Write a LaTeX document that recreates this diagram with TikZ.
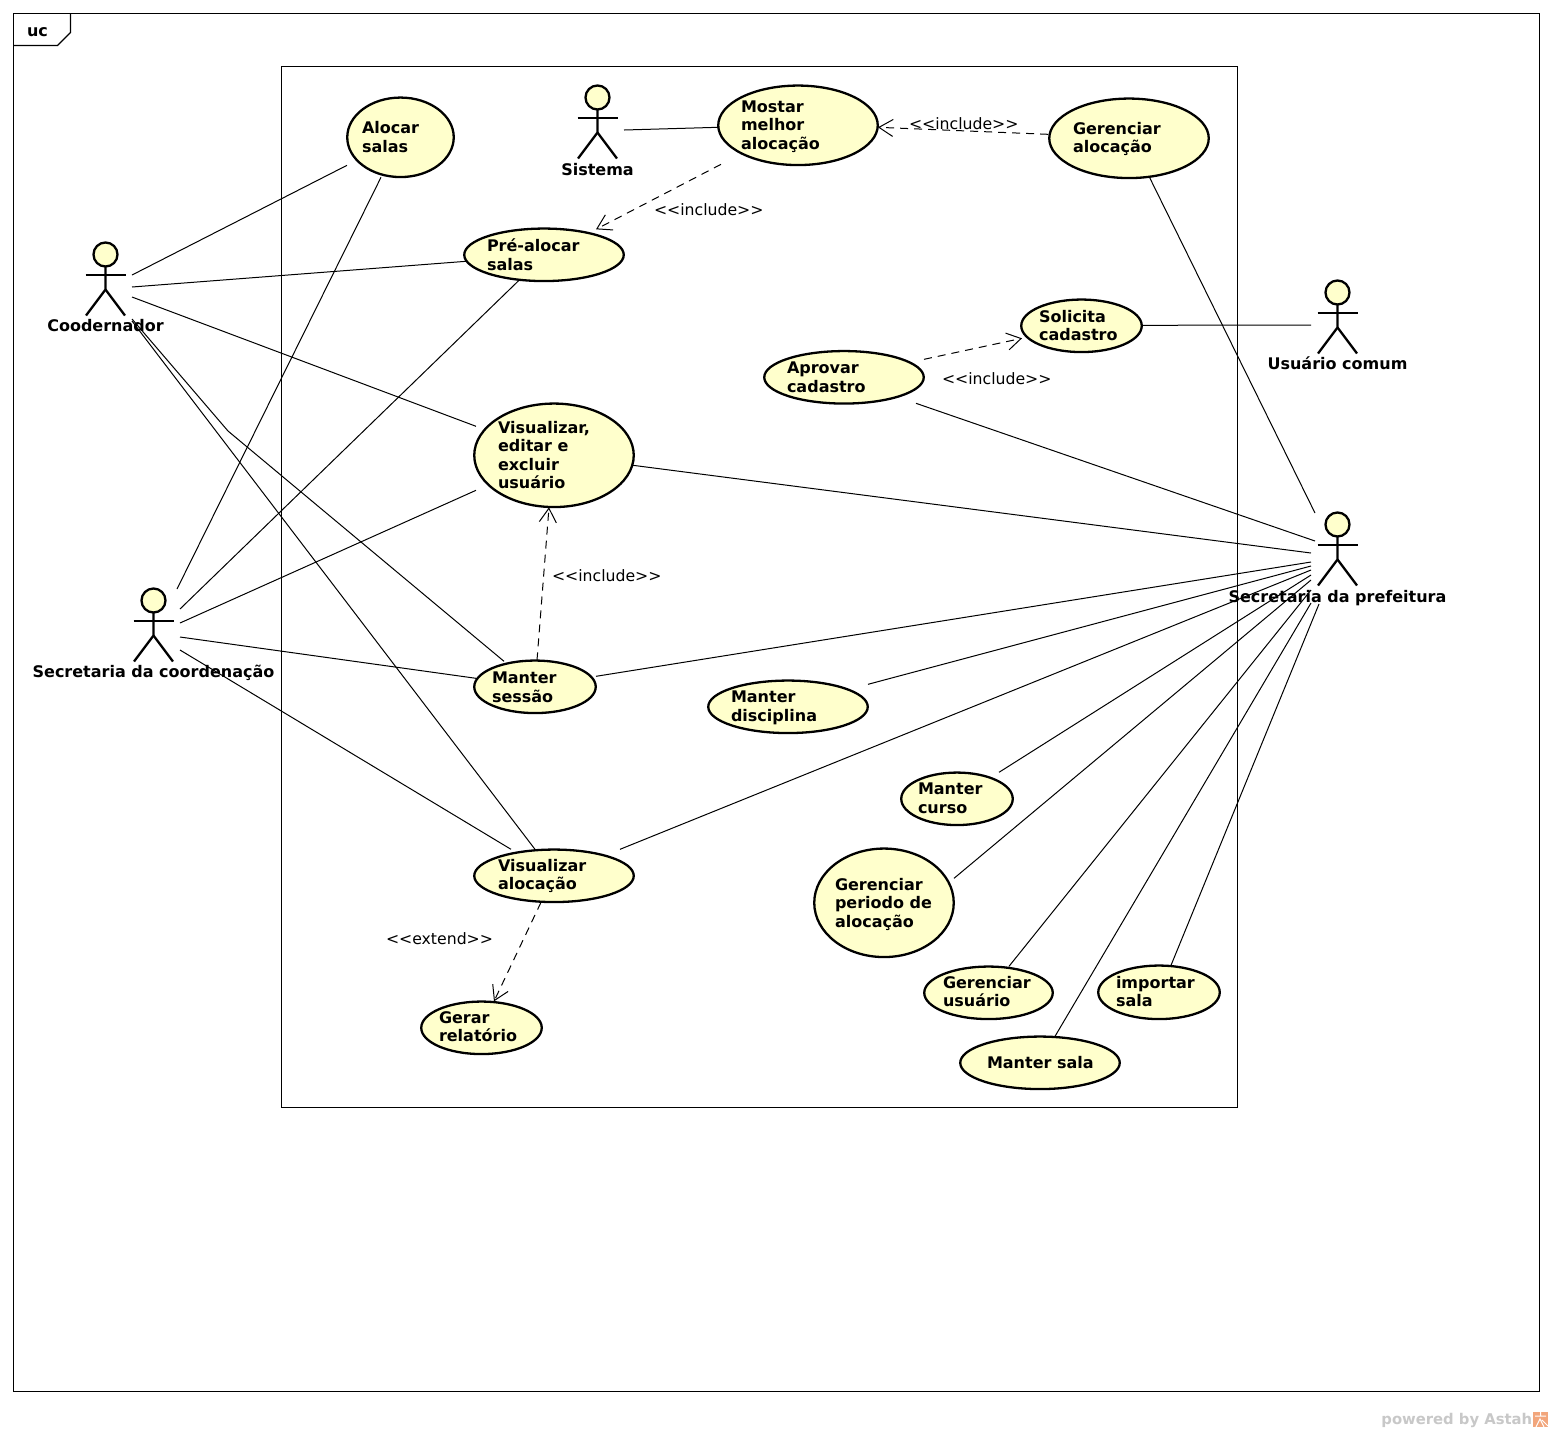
\documentclass[tikz,border=0pt]{standalone}
\usepackage{fontspec}
\setmainfont{DejaVu Sans}
\usetikzlibrary{arrows.meta,shapes.geometric}
\definecolor{ucfill}{HTML}{FFFFCC}
\definecolor{wmgrey}{HTML}{C8C8C8}
\definecolor{wmorange}{HTML}{F2A67C}
\tikzset{
  x=0.5pt,y=-0.5pt,
  frameline/.style={draw=black,line width=0.6pt},
  sysbox/.style={draw=black,line width=0.45pt},
  ucshape/.style={ellipse,draw=black,fill=ucfill,line width=1.15pt,inner sep=0pt,outer sep=0pt},
  uctext/.style={anchor=base west,inner sep=0pt,outer sep=0pt,font=\fontsize{8.0}{9.3}\selectfont\bfseries},
  actortext/.style={anchor=base,inner sep=0pt,outer sep=0pt,font=\fontsize{8.0}{9.3}\selectfont\bfseries},
  stereo/.style={anchor=base west,inner sep=0pt,outer sep=0pt,font=\fontsize{7.85}{9.3}\selectfont},
  assoc/.style={draw=black,line width=0.5pt},
  dep/.style={draw=black,line width=0.5pt,dash pattern=on 4pt off 3pt,-{Straight Barb[length=7pt,width=8.5pt,line width=0.5pt]}},
  actorline/.style={draw=black,line width=1.15pt},
  actorhead/.style={circle,draw=black,fill=ucfill,line width=1.15pt,minimum size=12pt,inner sep=0pt,outer sep=0pt},
}
\newcommand{\lines}[1]{\begin{tabular}[t]{@{}l@{}}#1\end{tabular}}
\newcommand{\regc}[3]{%
  \pgfmathsetmacro\tmpcx{#2}\pgfmathsetmacro\tmpcy{#3}%
  \global\expandafter\let\csname cx#1\endcsname\tmpcx
  \global\expandafter\let\csname cy#1\endcsname\tmpcy}
% name, x1, x2, y1, y2, text x, baseline y, text
\newcommand{\usecase}[8]{%
  \regc{#1}{(#2+#3)/2}{(#4+#5)/2}%
  \node[ucshape,minimum width={(#3-#2-0.5)*0.5pt},minimum height={(#5-#4-0.5)*0.5pt}] (#1) at ({(#2+#3)/2},{(#4+#5)/2+0.3}) {};
  \node[uctext] (#1T) at (#6,#7) {\lines{#8}};}
% name, head x, head y, label baseline, label
\newcommand{\actor}[5]{%
  \regc{#1}{#2}{#3}%
  \node[actorhead] (#1) at (#2,#3) {};
  \draw[actorline] (#1.south) -- ++(0,23) coordinate (#1C) -- ++(-19.5,26);
  \draw[actorline] (#1C) -- ++(19.5,26);
  \draw[actorline] ([shift={(-20,20.5)}]#1.center) -- ++(40.5,0);
  \node[actortext] (#1T) at (#2,#4) {#5};}
% style, a, x1, y1, b, x2, y2
\newcommand{\link}[7]{%
  \draw[#1] ([shift={(#3-\csname cx#2\endcsname,#4-\csname cy#2\endcsname)}]#2.center) --
            ([shift={(#6-\csname cx#5\endcsname,#7-\csname cy#5\endcsname)}]#5.center);}
\begin{document}
\begin{tikzpicture}
\useasboundingbox (0,0) rectangle (1553,1432);
\fill[white] (0,0) rectangle (1553,1432);
% frame
\draw[frameline] (13.5,13.5) rectangle (1539.5,1391.5);
\draw[frameline] (13.5,45.5) -- (57.5,45.5) -- (70.5,32.5) -- (70.5,13.5);
\node[uctext] (frameT) at (27,36) {uc};
% system boundary
\draw[sysbox] (281.5,66.5) rectangle (1237.5,1107.5);
% use cases
\usecase{alocar}{347}{454}{97}{177}{362}{133.4}{Alocar\\salas}
\usecase{mostrar}{718}{878}{85}{165}{741}{112}{Mostar\\melhor\\alocação}
\usecase{geral}{1049}{1209}{98}{178}{1073}{134}{Gerenciar\\alocação}
\usecase{pre}{464}{624}{228}{281}{487}{251.4}{Pré-alocar\\salas}
\usecase{solicita}{1021}{1142}{299}{352}{1039}{322}{Solicita\\cadastro}
\usecase{aprovar}{764}{924}{350.5}{403.5}{787}{373.4}{Aprovar\\cadastro}
\usecase{vis}{474}{634}{403}{507}{498}{433}{Visualizar,\\editar e\\excluir\\usuário}
\usecase{sessao}{474}{596}{660}{713}{492}{683.6}{Manter\\sessão}
\usecase{disc}{708}{868}{680}{733}{731}{702.6}{Manter\\disciplina}
\usecase{curso}{901}{1013}{772}{825}{918}{794.6}{Manter\\curso}
\usecase{periodo}{814}{954}{848}{957}{835}{890}{Gerenciar\\periodo de\\alocação}
\usecase{visal}{474}{634}{849}{902}{498}{871}{Visualizar\\alocação}
\usecase{rel}{421}{542}{1001}{1054}{439}{1023}{Gerar\\relatório}
\usecase{gusu}{924}{1053}{966}{1019}{943}{988}{Gerenciar\\usuário}
\usecase{imp}{1098}{1220}{965}{1019}{1116}{988}{importar\\sala}
\usecase{sala}{960}{1120}{1036}{1089}{987}{1068}{Manter sala}
% actors
\actor{coo}{105.5}{254.5}{331}{Coodernador}
\actor{sis}{597.5}{97.5}{175}{Sistema}
\actor{sec}{153.5}{600.5}{677}{Secretaria da coordenação}
\actor{usu}{1337.5}{292.5}{369}{Usuário comum}
\actor{pref}{1337.5}{524.5}{602}{Secretaria da prefeitura}
% Coodernador
\link{assoc}{coo}{132}{275}{alocar}{347}{165}
\link{assoc}{coo}{132}{287}{pre}{466}{261}
\link{assoc}{coo}{132}{297}{vis}{476}{426}
\coordinate (cobend) at (228,431);
\draw[assoc] ([shift={(132-\cxcoo,319-\cycoo)}]coo.center) -- (cobend) -- ([shift={(504-\cxsessao,661-\cysessao)}]sessao.center);
\link{assoc}{coo}{132}{321}{visal}{535}{849}
% Secretaria da coordenacao
\link{assoc}{sec}{177}{589}{alocar}{381}{177}
\link{assoc}{sec}{180}{609}{pre}{519}{280}
\link{assoc}{sec}{180}{623}{vis}{476}{490}
\link{assoc}{sec}{180}{637}{sessao}{476}{678}
\link{assoc}{sec}{180}{650}{visal}{511}{849}
% Sistema and others
\link{assoc}{sis}{624}{130}{mostrar}{718}{127}
\link{dep}{mostrar}{721}{164}{pre}{596}{229}
\link{dep}{geral}{1048}{134}{mostrar}{878}{127}
\link{assoc}{geral}{1149}{176}{pref}{1315}{513}
\link{assoc}{solicita}{1142}{325}{usu}{1311}{325}
\link{dep}{aprovar}{924}{359}{solicita}{1022}{338}
\link{assoc}{aprovar}{916}{403}{pref}{1315}{541}
\link{assoc}{vis}{633}{465}{pref}{1311}{553}
\link{dep}{sessao}{537}{660}{vis}{549}{507}
\link{assoc}{sessao}{596}{676}{pref}{1311}{562}
\link{assoc}{disc}{868}{684}{pref}{1311}{566}
\link{assoc}{visal}{620}{849}{pref}{1311}{570}
\link{assoc}{curso}{999}{772}{pref}{1311}{575}
\link{assoc}{periodo}{954}{878}{pref}{1311}{580}
\link{assoc}{gusu}{1009}{966}{pref}{1311}{590}
\link{assoc}{sala}{1055}{1036}{pref}{1311}{603}
\link{assoc}{imp}{1171}{965}{pref}{1319}{604}
\link{dep}{visal}{541}{902}{rel}{494}{1001}
% stereotypes
\node[stereo] (s1) at (654,215) {<{}<include>{}>};
\node[stereo] (s2) at (909,129) {<{}<include>{}>};
\node[stereo] (s3) at (942,384) {<{}<include>{}>};
\node[stereo] (s4) at (552,581) {<{}<include>{}>};
\node[stereo] (s5) at (386,944) {<{}<extend>{}>};
% watermark
\node[anchor=base west,inner sep=0pt,text=wmgrey,font=\fontsize{7.4}{9}\selectfont\bfseries] (wm) at (1381,1424) {powered by Astah};
\fill[wmorange] (1533,1412) rectangle (1548,1427);
\draw[white,line width=0.5pt] (1540.5,1412) -- (1540.5,1416) (1535,1416) -- (1546,1416) (1536,1427) -- (1540,1419) -- (1544,1427) (1542,1420) -- (1548,1426);
\end{tikzpicture}
\end{document}
